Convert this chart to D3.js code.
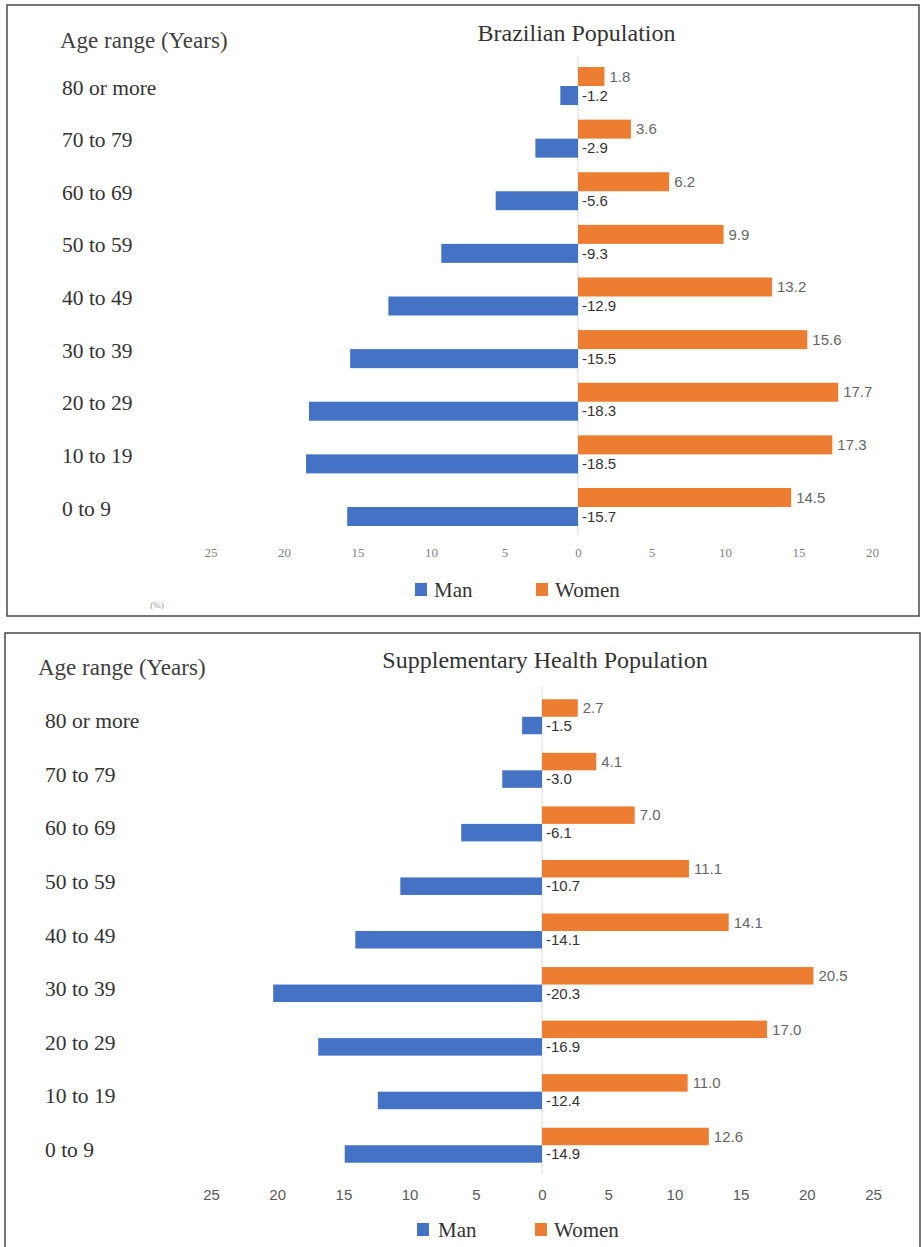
<!DOCTYPE html>
<html>
<head>
<meta charset="utf-8">
<script src="https://cdn.jsdelivr.net/npm/d3@7"></script>
<style>
  html, body { margin: 0; padding: 0; background: #ffffff; }
  svg { display: block; }
</style>
</head>
<body>
<svg id="chart" width="921" height="1247"></svg>
<script>
// Age groups, oldest at the top
const ageGroups = ["80 or more", "70 to 79", "60 to 69", "50 to 59", "40 to 49",
                   "30 to 39", "20 to 29", "10 to 19", "0 to 9"];

// Brazilian population (%), men drawn as negative values
const brazilMen   = [-1.2, -2.9, -5.6, -9.3, -12.9, -15.5, -18.3, -18.5, -15.7];
const brazilWomen = [1.8, 3.6, 6.2, 9.9, 13.2, 15.6, 17.7, 17.3, 14.5];

// Supplementary health population (%)
const healthMen   = [-1.5, -3.0, -6.1, -10.7, -14.1, -20.3, -16.9, -12.4, -14.9];
const healthWomen = [2.7, 4.1, 7.0, 11.1, 14.1, 20.5, 17.0, 11.0, 12.6];

// Axis ticks
const brazilTicks = [-25, -20, -15, -10, -5, 0, 5, 10, 15, 20];
const healthTicks = [-25, -20, -15, -10, -5, 0, 5, 10, 15, 20, 25];

const seriesNames = ["Man", "Women"];
const BLUE = "#4472c4";
const ORANGE = "#ed7d31";
const SERIF = "'Liberation Serif', 'Times New Roman', serif";
const SANS = "'Liberation Sans', Arial, sans-serif";

const svg = d3.select("#chart");

function drawPanel(cfg) {
  const g = svg.append("g");

  // frame
  g.append("rect")
    .attr("x", cfg.frame[0]).attr("y", cfg.frame[1])
    .attr("width", cfg.frame[2]).attr("height", cfg.frame[3])
    .attr("fill", "#ffffff").attr("stroke", "#555555").attr("stroke-width", 1.6);

  const x = d3.scaleLinear().domain(cfg.xDomain).range(cfg.xRange);
  const y = d3.scaleBand().domain(ageGroups).range(cfg.yRange).paddingInner(0).paddingOuter(0);
  const half = y.bandwidth() / 2;
  const bh = cfg.barH;

  // zero line
  g.append("line")
    .attr("x1", x(0)).attr("x2", x(0))
    .attr("y1", cfg.yRange[0] - 4).attr("y2", cfg.yRange[1] + 2)
    .attr("stroke", "#d9d9d9").attr("stroke-width", 1);

  const rows = ageGroups.map((a, i) => ({ age: a, man: cfg.men[i], women: cfg.women[i] }));

  // women bars (upper half of each group)
  g.selectAll(".w").data(rows).enter().append("rect")
    .attr("x", d => x(0))
    .attr("y", d => y(d.age) + half - bh)
    .attr("width", d => x(d.women) - x(0))
    .attr("height", bh)
    .attr("fill", ORANGE);

  // men bars (lower half)
  g.selectAll(".m").data(rows).enter().append("rect")
    .attr("x", d => x(d.man))
    .attr("y", d => y(d.age) + half)
    .attr("width", d => x(0) - x(d.man))
    .attr("height", bh)
    .attr("fill", BLUE);

  // value labels
  g.selectAll(".wl").data(rows).enter().append("text")
    .attr("x", d => x(d.women) + 5)
    .attr("y", d => y(d.age) + half - bh / 2)
    .attr("dy", "0.35em")
    .attr("font-family", SANS).attr("font-size", 15)
    .attr("fill", "#666666")
    .text(d => d.women.toFixed(1));

  g.selectAll(".ml").data(rows).enter().append("text")
    .attr("x", d => x(0) + 4)
    .attr("y", d => y(d.age) + half + bh / 2)
    .attr("dy", "0.35em")
    .attr("font-family", SANS).attr("font-size", 15)
    .attr("fill", "#333333")
    .text(d => d.man.toFixed(1));

  // category labels
  g.selectAll(".cat").data(ageGroups).enter().append("text")
    .attr("x", cfg.labelX)
    .attr("y", d => y(d) + half + cfg.labelDy)
    .attr("dy", "0.35em")
    .attr("font-family", SERIF).attr("font-size", 21.5)
    .attr("fill", "#333333")
    .text(d => d);

  // axis header and title
  g.append("text")
    .attr("x", cfg.headerX).attr("y", cfg.headerY).attr("dy", "0.35em")
    .attr("font-family", SERIF).attr("font-size", 23).attr("fill", "#404040")
    .text("Age range (Years)");

  g.append("text")
    .attr("x", cfg.titleX).attr("y", cfg.titleY).attr("dy", "0.35em")
    .attr("text-anchor", "middle")
    .attr("font-family", SERIF).attr("font-size", 24).attr("fill", "#333333")
    .text(cfg.title);

  // horizontal axis
  const axis = d3.axisBottom(x).tickValues(cfg.ticks).tickSize(0).tickFormat(d => Math.abs(d));
  const ax = g.append("g").attr("transform", `translate(0,${cfg.axisY})`).call(axis);
  ax.select(".domain").remove();
  ax.selectAll("text")
    .attr("y", 0).attr("dy", "0.35em")
    .attr("font-family", cfg.tickFont).attr("font-size", cfg.tickSize)
    .attr("fill", cfg.tickColor);

  // legend
  const lg = g.append("g").attr("transform", `translate(0,${cfg.legendY})`);
  cfg.legend.forEach((item, i) => {
    lg.append("rect")
      .attr("x", item.sx).attr("y", -7).attr("width", 12).attr("height", 13)
      .attr("fill", i === 0 ? BLUE : ORANGE);
    lg.append("text")
      .attr("x", item.tx).attr("y", 0).attr("dy", "0.35em")
      .attr("font-family", SERIF).attr("font-size", 21).attr("fill", "#333333")
      .text(seriesNames[i]);
  });

  return g;
}

const brazilPanel = drawPanel({
  frame: [7, 5, 912, 611],
  xDomain: [-25, 20], xRange: [210.5, 872],
  yRange: [59.7, 533.3], barH: 19,
  men: brazilMen, women: brazilWomen,
  labelX: 62, labelDy: 1,
  headerX: 60, headerY: 40,
  titleX: 576.5, titleY: 33, title: "Brazilian Population",
  ticks: brazilTicks, axisY: 552,
  tickFont: SERIF, tickSize: 13, tickColor: "#7f7f7f",
  legendY: 590,
  legend: [{ sx: 415, tx: 434 }, { sx: 536, tx: 555 }]
});

// percentage note under the top axis
brazilPanel.append("text")
  .attr("x", 157).attr("y", 605).attr("dy", "0.35em")
  .attr("text-anchor", "middle")
  .attr("font-family", SERIF).attr("font-size", 9).attr("fill", "#999999")
  .text("(%)");

drawPanel({
  frame: [5, 633, 915, 640],
  xDomain: [-25, 25], xRange: [211, 873],
  yRange: [690, 1172], barH: 17.5,
  men: healthMen, women: healthWomen,
  labelX: 45, labelDy: 4,
  headerX: 38, headerY: 667,
  titleX: 545, titleY: 660, title: "Supplementary Health Population",
  ticks: healthTicks, axisY: 1195,
  tickFont: SANS, tickSize: 15, tickColor: "#595959",
  legendY: 1230,
  legend: [{ sx: 417, tx: 438 }, { sx: 535, tx: 554 }]
});
</script>
</body>
</html>
